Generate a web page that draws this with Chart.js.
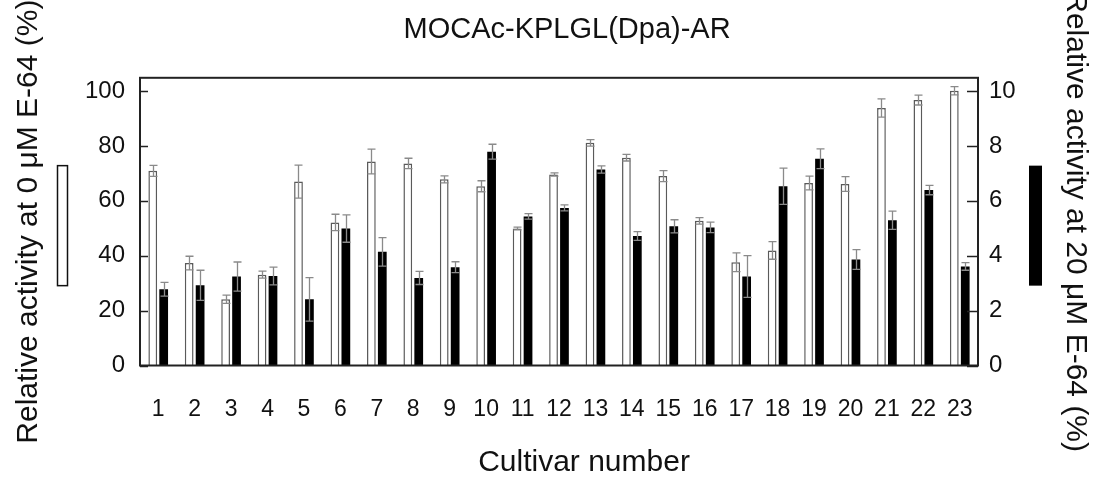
<!DOCTYPE html>
<html>
<head>
<meta charset="utf-8">
<script src="https://cdn.jsdelivr.net/npm/chart.js@4.4.1/dist/chart.umd.min.js"></script>
<style>
  html, body { margin: 0; padding: 0; background: #fff; }
  #wrap { width: 1101px; height: 483px; }
</style>
</head>
<body>
<div id="wrap"><canvas id="c" width="1101" height="483"></canvas></div>
<script>
const categories = ['1','2','3','4','5','6','7','8','9','10','11','12','13','14','15','16','17','18','19','20','21','22','23'];
const activity0uM = [70.9, 37.3, 24.1, 33.1, 67.0, 52.1, 74.3, 73.6, 67.8, 65.3, 49.9, 69.6, 81.1, 75.7, 69.0, 52.7, 37.6, 41.9, 66.5, 66.1, 93.8, 96.7, 100.1];
const error0uM = [2.0, 2.5, 1.5, 1.3, 6.0, 3.0, 4.5, 1.9, 1.3, 2.0, 0.5, 0.6, 1.2, 1.2, 2.0, 1.2, 3.4, 3.2, 2.5, 2.7, 3.3, 1.8, 1.5];
const activity20uM = [2.78, 2.92, 3.24, 3.26, 2.41, 4.99, 4.14, 3.19, 3.58, 7.79, 5.43, 5.74, 7.14, 4.72, 5.07, 5.03, 3.24, 6.53, 7.53, 3.86, 5.29, 6.39, 3.61];
const error20uM = [0.25, 0.55, 0.53, 0.32, 0.79, 0.50, 0.52, 0.24, 0.20, 0.27, 0.10, 0.11, 0.13, 0.16, 0.24, 0.19, 0.76, 0.66, 0.36, 0.36, 0.33, 0.17, 0.14];
const leftTicks = [0, 20, 40, 60, 80, 100];
const rightTicks = [0, 2, 4, 6, 8, 10];

const FONT = "'Liberation Sans', Arial, sans-serif";
const errors = [error0uM, error20uM];

const errorBarPlugin = {
  id: 'errorBars',
  afterDatasetsDraw(chart) {
    const ctx = chart.ctx;
    ctx.save();
    ctx.strokeStyle = '#8a8a8a';
    ctx.lineWidth = 1.3;
    chart.data.datasets.forEach((ds, i) => {
      const meta = chart.getDatasetMeta(i);
      const scale = chart.scales[meta.yAxisID];
      meta.data.forEach((bar, j) => {
        const v = ds.data[j], e = errors[i][j];
        const x = Math.round(bar.x) + 0.5;
        const yt = scale.getPixelForValue(v + e);
        const yb = scale.getPixelForValue(v - e);
        const hw = 4;
        ctx.beginPath();
        ctx.moveTo(x, yt); ctx.lineTo(x, yb);
        ctx.moveTo(x - hw, yt); ctx.lineTo(x + hw, yt);
        ctx.moveTo(x - hw, yb); ctx.lineTo(x + hw, yb);
        ctx.stroke();
      });
    });
    ctx.restore();
  }
};

const framePlugin = {
  id: 'frame',
  afterDraw(chart) {
    const ctx = chart.ctx;
    const a = chart.chartArea;
    ctx.save();
    ctx.strokeStyle = '#222';
    ctx.lineWidth = 2;
    ctx.strokeRect(a.left, a.top, a.right - a.left, a.bottom - a.top);
    ctx.lineWidth = 1.5;
    const yl = chart.scales.y, yr = chart.scales.y2;
    leftTicks.forEach(t => {
      const y = Math.round(yl.getPixelForValue(t)) + 0.5;
      ctx.beginPath(); ctx.moveTo(a.left, y); ctx.lineTo(a.left + 8, y); ctx.stroke();
    });
    rightTicks.forEach(t => {
      const y = Math.round(yr.getPixelForValue(t)) + 0.5;
      ctx.beginPath(); ctx.moveTo(a.right, y); ctx.lineTo(a.right - 11, y); ctx.stroke();
    });
    // legend swatches beside axis titles
    const midY = (a.top + a.bottom) / 2;
    ctx.lineWidth = 1.5;
    ctx.strokeStyle = '#111';
    ctx.fillStyle = '#fff';
    ctx.fillRect(57, midY + 4 - 60, 11, 120);
    ctx.strokeRect(57.5, midY + 4 - 60, 10, 120);
    ctx.fillStyle = '#000';
    ctx.fillRect(1029, midY + 4 - 60, 13, 120);
    ctx.restore();
  }
};

new Chart(document.getElementById('c'), {
  type: 'bar',
  data: {
    labels: categories,
    datasets: [
      {
        label: 'Relative activity at 0 μM E-64 (%)',
        data: activity0uM,
        yAxisID: 'y',
        backgroundColor: '#ffffff',
        borderColor: '#5a5a5a',
        borderWidth: 1.5,
        categoryPercentage: 0.6,
        barPercentage: 0.8
      },
      {
        label: 'Relative activity at 20 μM E-64 (%)',
        data: activity20uM,
        yAxisID: 'y2',
        backgroundColor: '#000000',
        borderColor: '#333',
        borderWidth: 0,
        categoryPercentage: 0.6,
        barPercentage: 0.8
      }
    ]
  },
  options: {
    responsive: false,
    animation: false,
    devicePixelRatio: 1,
    layout: { padding: 0 },
    plugins: {
      legend: { display: false },
      tooltip: { enabled: false },
      title: {
        display: true,
        text: '  MOCAc-KPLGL(Dpa)-AR',
        fullSize: false,
        color: '#111',
        font: { family: FONT, size: 29, weight: 'normal' },
        padding: { top: 13, bottom: 30 }
      }
    },
    scales: {
      x: {
        grid: { display: false, drawTicks: false },
        border: { display: false },
        ticks: { color: '#111', font: { family: FONT, size: 23 }, padding: 30, maxRotation: 0, autoSkip: false },
        title: { display: true, text: '      Cultivar number', color: '#111', font: { family: FONT, size: 30 }, padding: { top: 0, bottom: 2 } },
        afterFit(s) { s.height = 117.5; }
      },
      y: {
        position: 'left',
        min: 0, max: 104.8,
        grid: { display: false, drawTicks: false },
        border: { display: false },
        afterBuildTicks(s) { s.ticks = leftTicks.map(v => ({ value: v })); },
        ticks: { color: '#111', font: { family: FONT, size: 24 }, padding: 15 },
        title: { display: true, text: 'Relative activity at 0 μM E-64 (%)', color: '#111', font: { family: FONT, size: 30 }, padding: { top: 11, bottom: 0 } },
        afterFit(s) { s.width = 140; }
      },
      y2: {
        position: 'right',
        min: 0, max: 10.48,
        grid: { display: false, drawTicks: false },
        border: { display: false },
        afterBuildTicks(s) { s.ticks = rightTicks.map(v => ({ value: v })); },
        ticks: { color: '#111', font: { family: FONT, size: 24 }, padding: 11 },
        title: { display: true, text: 'Relative activity at 20 μM E-64 (%)', color: '#111', font: { family: FONT, size: 30 }, padding: { top: 8, bottom: 0 } },
        afterFit(s) { s.width = 123; }
      }
    }
  },
  plugins: [errorBarPlugin, framePlugin]
});
</script>
</body>
</html>
